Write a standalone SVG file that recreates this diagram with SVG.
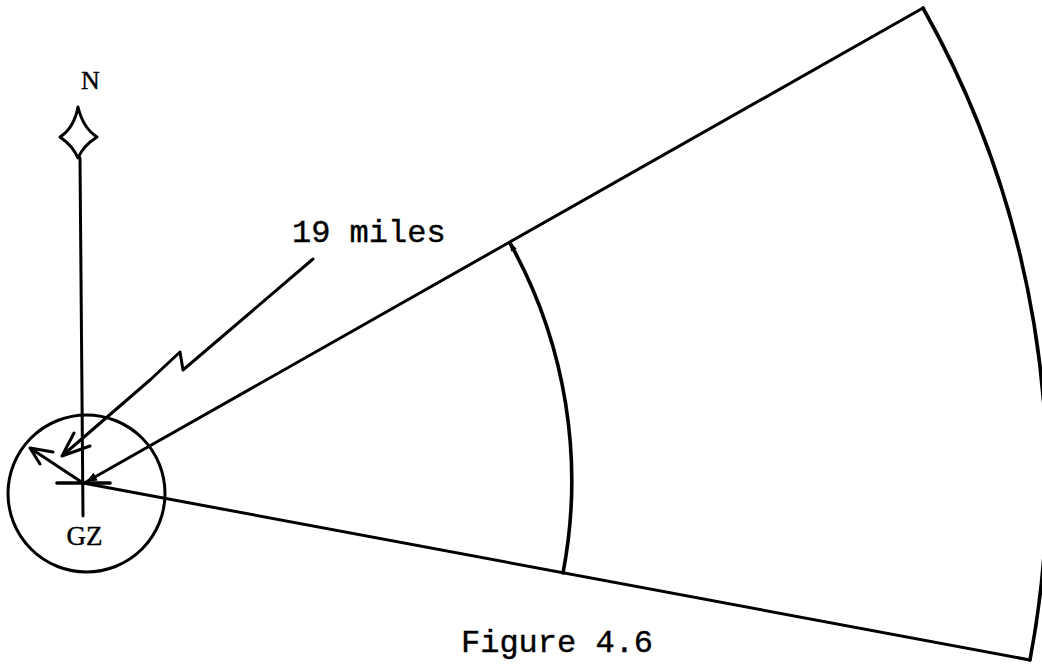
<svg xmlns="http://www.w3.org/2000/svg" width="1042" height="665" viewBox="0 0 1042 665">
<style>
.ln{fill:none;stroke:#000;stroke-width:3;stroke-linecap:round;stroke-linejoin:round}
.thk{fill:none;stroke:#000;stroke-width:3.6;stroke-linecap:round}
.mono{font-family:"Liberation Mono","Courier New",monospace;font-size:32px;fill:#000;stroke:#000;stroke-width:0.4}
.serif{font-family:"Liberation Serif","Times New Roman",serif;fill:#000;stroke:#000;stroke-width:0.4}
</style>
<defs>
<marker id="ah" viewBox="0 0 10 10" refX="10" refY="5" markerWidth="24" markerHeight="11" markerUnits="userSpaceOnUse" orient="auto">
<path d="M0,1 L10,5 L0,9 z" fill="#000"/>
</marker>
<marker id="ahs" viewBox="0 0 10 10" refX="10" refY="5" markerWidth="15" markerHeight="8" markerUnits="userSpaceOnUse" orient="auto">
<path d="M0,1 L10,5 L0,9 z" fill="#000"/>
</marker>
</defs>
<rect width="1042" height="665" fill="#fff"/>
<g id="north">
<text class="serif" x="90.5" y="89" font-size="26" text-anchor="middle">N</text>
<path class="ln" d="M78,107 Q74,128 60,137 Q73,146 78,158 Q83,146 97,137 Q83,128 78,107 Z"/>
</g>
<g id="gz">
<circle class="ln" cx="86.5" cy="493.5" r="78.5"/>
<text class="serif" x="84.5" y="545" font-size="27" text-anchor="middle">GZ</text>
</g>
<g id="connectors">
<line class="ln" x1="80" y1="158" x2="83" y2="516"/>
<line class="thk" x1="57" y1="483" x2="110" y2="483"/>
<line class="ln" x1="923" y1="8" x2="86" y2="482" marker-end="url(#ah)"/>
<line class="ln" x1="83" y1="483" x2="1030" y2="660"/>
<path class="thk" d="M563,573 A489,489 0 0 0 510,243" marker-end="url(#ahs)"/>
<path class="thk" d="M1030,660 A964,964 0 0 0 923,8" stroke-width="4"/>
<path class="ln" d="M83,483 L30,448 M53,452 L30,448 L40,464" stroke-width="3.4"/>
<path class="ln" d="M313,259 L183,370 L180,352 L150,380 L62,456 M74,433 L62,456 L90,446"/>
</g>
<g id="labels">
<text class="mono" x="292" y="242">19 miles</text>
<text class="mono" x="461" y="652">Figure 4.6</text>
</g>
</svg>
